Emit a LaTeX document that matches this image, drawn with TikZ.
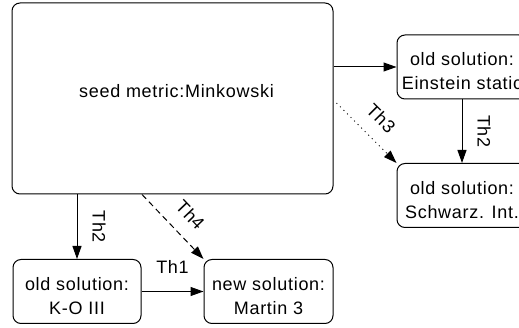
\documentclass[tikz,border=0pt]{standalone}
\usepackage{fontspec}
\setmainfont{Liberation Sans}[LetterSpace=4]
\usetikzlibrary{arrows.meta,calc}
\begin{document}
\begin{tikzpicture}[x=1pt,y=-1pt,
  box/.style={draw,line width=1pt,rounded corners=8pt,inner sep=0pt},
  txt/.style={font=\fontsize{18}{24}\selectfont,align=center,inner sep=0pt},
  arr/.style={line width=1pt,-{Triangle[length=13pt,width=9pt]}},
  lab/.style={font=\fontsize{18}{24}\selectfont,inner sep=0pt,sloped,allow upside down}]
\useasboundingbox (0,0) rectangle (519,328);
\node[box,minimum width=321pt,minimum height=191pt,
  label={[txt,xshift=4pt,yshift=7pt]center:{seed metric:Minkowski}}] (seed) at (172.5,98.5) {};
\node[box,minimum width=130pt,minimum height=64pt,
  label={[txt,yshift=-4.5pt]center:{old solution:\\Einstein static}}] (ein) at (462,67) {};
\node[box,minimum width=130pt,minimum height=64pt,
  label={[txt,yshift=-4.5pt]center:{old solution:\\Schwarz. Int.}}] (sch) at (462,195.5) {};
\node[box,minimum width=128pt,minimum height=64pt,
  label={[txt,yshift=-4.5pt]center:{old solution:\\K-O III}}] (ko) at (77,291.5) {};
\node[box,minimum width=129pt,minimum height=64pt,
  label={[txt,yshift=-4.5pt]center:{new solution:\\Martin 3}}] (mar) at (268.5,291.5) {};
\draw[arr] (seed.east |- ein.west) -- (ein.west);
\draw[arr] (ein.south) -- node[lab,above=15pt]{Th2} (sch.north);
\draw[arr] (seed.south -| ko.north) -- node[lab,above=15pt]{Th2} (ko.north);
\draw[arr] (ko.east) -- node[lab,above=17.5pt]{Th1} (mar.west);
\draw[arr,dash pattern=on 1pt off 4pt] ([xshift=3pt,yshift=-4.5pt]seed.east) -- node[lab,above=13.5pt]{Th3} (sch.north west);
\draw[arr,dash pattern=on 6pt off 4pt] ([xshift=-30.5pt]seed.south) -- node[lab,pos=0.54,above=14pt]{Th4} (mar.north west);
\end{tikzpicture}
\end{document}
